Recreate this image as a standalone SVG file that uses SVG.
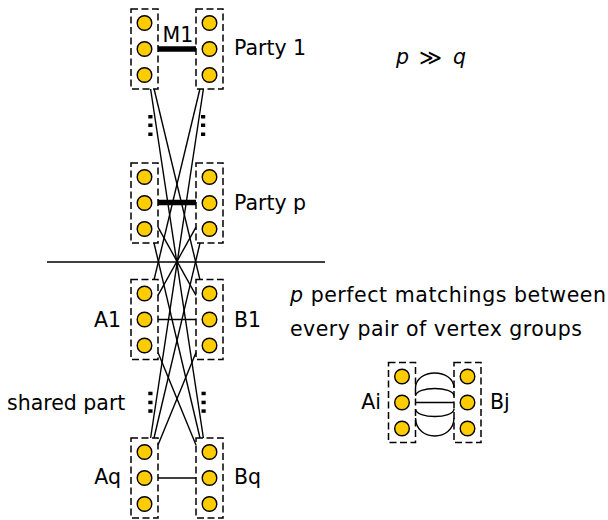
<svg xmlns="http://www.w3.org/2000/svg" xmlns:xlink="http://www.w3.org/1999/xlink" width="608" height="520" viewBox="0 0 608 520">
<style>
.box{fill:none;stroke:#000;stroke-width:1.5;stroke-dasharray:7 3.5}
.v{fill:#FFCC00;stroke:#000;stroke-width:1.4}
.e{stroke:#000;stroke-width:1.4;fill:none}
.m{stroke:#000;stroke-width:5.5}
.t{font-family:"DejaVu Sans",sans-serif;font-size:20.5px;fill:#000}
.it{font-style:italic}
.dot{fill:#000}
</style>
<defs>
<g id="grp">
<rect class="box" x="-13.5" y="-40" width="27" height="80"/>
<circle class="v" cx="0" cy="-26" r="7.3"/>
<circle class="v" cx="0" cy="0" r="7.3"/>
<circle class="v" cx="0" cy="26" r="7.3"/>
</g>
</defs>
<rect width="608" height="520" fill="#fff"/>

<g id="connectors">
<line class="e" x1="154.1" y1="89" x2="199.9" y2="279.5"/>
<line class="e" x1="150.6" y1="89" x2="203.4" y2="438"/>
<line class="e" x1="199.9" y1="89" x2="154.1" y2="279.5"/>
<line class="e" x1="203.4" y1="89" x2="150.6" y2="438"/>
<line class="e" x1="158" y1="227.2" x2="196" y2="295.3"/>
<line class="e" x1="154" y1="243" x2="200" y2="438"/>
<line class="e" x1="196" y1="227.2" x2="158" y2="295.3"/>
<line class="e" x1="200" y1="243" x2="154" y2="438"/>
<line class="e" x1="158" y1="352.4" x2="196" y2="445.1"/>
<line class="e" x1="196" y1="352.4" x2="158" y2="445.1"/>
<line class="m" x1="158" y1="49" x2="196" y2="49"/>
<line class="m" x1="158" y1="202.5" x2="196" y2="202.5"/>
<line class="e" x1="158" y1="319.5" x2="196" y2="319.5"/>
<line class="e" x1="158" y1="478" x2="196" y2="478"/>
<path class="e" d="M415.5,388 C416,368 453.5,368 454,388"/>
<path class="e" d="M415.5,396 C416,386 453.5,386 454,396"/>
<line class="e" x1="415.5" y1="402.5" x2="454" y2="402.5"/>
<path class="e" d="M415.5,409 C416,419 453.5,419 454,409"/>
<path class="e" d="M415.5,418 C416,442 453.5,442 454,418"/>
</g>
<line class="e" x1="47" y1="262" x2="325" y2="262"/>

<g id="party1-left"><use xlink:href="#grp" x="144.5" y="49"/></g>
<g id="party1-right"><use xlink:href="#grp" x="209.5" y="49"/></g>
<g id="partyp-left"><use xlink:href="#grp" x="144.5" y="203"/></g>
<g id="partyp-right"><use xlink:href="#grp" x="209.5" y="203"/></g>
<g id="A1"><use xlink:href="#grp" x="144.5" y="319.5"/></g>
<g id="B1"><use xlink:href="#grp" x="209.5" y="319.5"/></g>
<g id="Aq"><use xlink:href="#grp" x="144.5" y="478"/></g>
<g id="Bq"><use xlink:href="#grp" x="209.5" y="478"/></g>
<g id="Ai"><use xlink:href="#grp" x="402" y="402.5"/></g>
<g id="Bj"><use xlink:href="#grp" x="467.5" y="402.5"/></g>

<g id="dots">
<rect class="dot" x="148.3" y="115" width="4.2" height="3.5"/>
<rect class="dot" x="148.3" y="123.5" width="4.2" height="3.5"/>
<rect class="dot" x="148.3" y="132.5" width="4.2" height="3.5"/>
<rect class="dot" x="201" y="115" width="4.2" height="3.5"/>
<rect class="dot" x="201" y="123.5" width="4.2" height="3.5"/>
<rect class="dot" x="201" y="132.5" width="4.2" height="3.5"/>
<rect class="dot" x="148.3" y="391.7" width="4.2" height="3.5"/>
<rect class="dot" x="148.3" y="400.7" width="4.2" height="3.5"/>
<rect class="dot" x="148.3" y="409.3" width="4.2" height="3.5"/>
<rect class="dot" x="201.5" y="391.7" width="4.2" height="3.5"/>
<rect class="dot" x="201.5" y="400.7" width="4.2" height="3.5"/>
<rect class="dot" x="201.5" y="409.3" width="4.2" height="3.5"/>
</g>

<g id="labels">
<text class="t" x="162.5" y="42">M1</text>
<text class="t" x="234" y="55">Party 1</text>
<text class="t" x="234" y="210">Party p</text>
<text class="t" x="396" y="64"><tspan class="it">p</tspan><tspan x="419" font-size="22" dy="1">≫</tspan><tspan class="it" x="453" dy="-1">q</tspan></text>
<text class="t" x="121" y="327" text-anchor="end">A1</text>
<text class="t" x="234" y="327">B1</text>
<text class="t" x="121" y="484" text-anchor="end">Aq</text>
<text class="t" x="234" y="484">Bq</text>
<text class="t" x="7" y="410">shared part</text>
<text class="t" x="290" y="302" textLength="316" lengthAdjust="spacing"><tspan class="it">p</tspan> perfect matchings between</text>
<text class="t" x="290" y="336" textLength="292" lengthAdjust="spacing">every pair of vertex groups</text>
<text class="t" x="381" y="409" text-anchor="end">Ai</text>
<text class="t" x="490" y="409">Bj</text>
</g>
</svg>
